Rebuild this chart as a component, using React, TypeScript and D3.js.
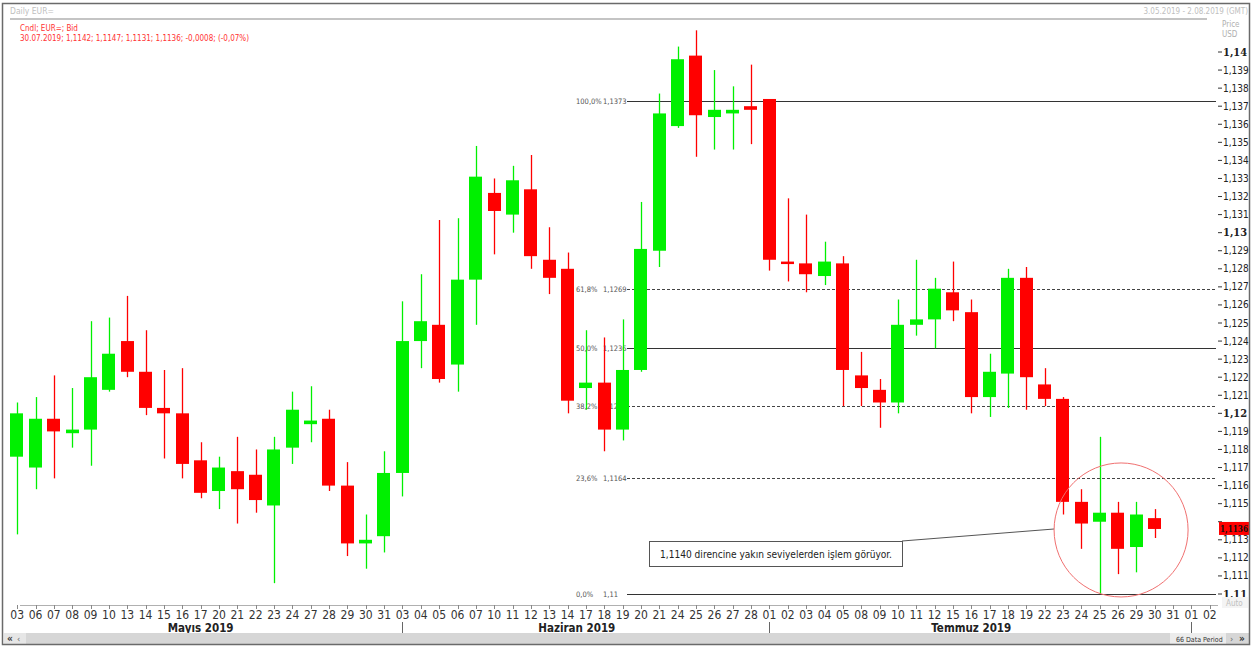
import React from "react";
import * as d3 from "d3";

// ---- data ----
const dateLabels = [
  "03","06","07","08","09","10","13","14","15","16","17","20","21","22","23","24","27","28","29","30","31",
  "03","04","05","06","07","10","11","12","13","14","17","18","19","20","21","24","25","26","27","28",
  "01","02","03","04","05","08","09","10","11","12","15","16","17","18","19","22","23","24","25","26","29","30","31",
  "01","02",
];
const monthNames = ["Mayıs 2019", "Haziran 2019", "Temmuz 2019"];
const monthStart = [0, 21, 41];
const monthEnd = [20, 40, 63];

const opens = [
  1.1176, 1.1170, 1.1197, 1.1189, 1.1191, 1.1213, 1.1240, 1.1223, 1.1203, 1.1200, 1.1174,
  1.1157, 1.1168, 1.1166, 1.1149, 1.1181, 1.1194, 1.1197, 1.1160, 1.1128, 1.1132,
  1.1167, 1.1240, 1.1249, 1.1227, 1.1274, 1.1322, 1.1310, 1.1324, 1.1285, 1.1280,
  1.1214, 1.1217, 1.1191, 1.1224, 1.1290, 1.1359, 1.1398, 1.1364, 1.1366, 1.1370,
  1.1374, 1.1284, 1.1283, 1.1276, 1.1283, 1.1221, 1.1213, 1.1206, 1.1249, 1.1252,
  1.1267, 1.1256, 1.1209, 1.1222, 1.1275, 1.1216, 1.1208, 1.1151, 1.1140, 1.1145,
  1.1126, 1.1142,
];
const highs = [
  1.1206, 1.1209, 1.1221, 1.1214, 1.1251, 1.1253, 1.1265, 1.1246, 1.1224, 1.1225, 1.1184,
  1.1176, 1.1187, 1.1180, 1.1187, 1.1212, 1.1215, 1.1202, 1.1173, 1.1144, 1.1179,
  1.1262, 1.1277, 1.1307, 1.1308, 1.1348, 1.1330, 1.1337, 1.1343, 1.1303, 1.1289,
  1.1246, 1.1242, 1.1252, 1.1317, 1.1377, 1.1403, 1.1412, 1.1390, 1.1381, 1.1393,
  1.1374, 1.1319, 1.1310, 1.1295, 1.1287, 1.1234, 1.1219, 1.1263, 1.1285, 1.1275,
  1.1284, 1.1263, 1.1233, 1.1280, 1.1281, 1.1225, 1.1209, 1.1158, 1.1187, 1.1151,
  1.1151, 1.1147,
];
const lows = [
  1.1133, 1.1158, 1.1164, 1.1181, 1.1171, 1.1212, 1.1220, 1.1199, 1.1175, 1.1164, 1.1153,
  1.1147, 1.1139, 1.1145, 1.1106, 1.1172, 1.1184, 1.1157, 1.1121, 1.1114, 1.1123,
  1.1154, 1.1225, 1.1217, 1.1212, 1.1249, 1.1288, 1.1300, 1.1280, 1.1266, 1.1200,
  1.1202, 1.1179, 1.1185, 1.1223, 1.1281, 1.1358, 1.1342, 1.1346, 1.1346, 1.1349,
  1.1279, 1.1273, 1.1267, 1.1271, 1.1204, 1.1204, 1.1192, 1.1200, 1.1243, 1.1236,
  1.1251, 1.1200, 1.1198, 1.1203, 1.1202, 1.1204, 1.1144, 1.1125, 1.1100, 1.1111,
  1.1112, 1.1131,
];
const closes = [
  1.1200, 1.1197, 1.1190, 1.1191, 1.1220, 1.1233, 1.1223, 1.1203, 1.1200, 1.1172, 1.1156,
  1.1170, 1.1158, 1.1152, 1.1180, 1.1202, 1.1196, 1.1160, 1.1128, 1.1130, 1.1167,
  1.1240, 1.1251, 1.1219, 1.1274, 1.1331, 1.1312, 1.1329, 1.1287, 1.1275, 1.1207,
  1.1217, 1.1191, 1.1224, 1.1291, 1.1366, 1.1396, 1.1365, 1.1368, 1.1368, 1.1368,
  1.1285, 1.1283, 1.1277, 1.1284, 1.1224, 1.1214, 1.1206, 1.1249, 1.1252, 1.1269,
  1.1257, 1.1209, 1.1223, 1.1275, 1.1220, 1.1208, 1.1151, 1.1139, 1.1145, 1.1125,
  1.1144, 1.1136,
];

const fibPct = ["100,0%", "61,8%", "50,0%", "38,2%", "23,6%", "0,0%"];
const fibPrice = [1.1373, 1.1269, 1.1236, 1.1204, 1.1164, 1.11];
const fibDashed = [false, true, false, true, true, false];

const lastPrice = 1.1136;
const noteText = "1,1140 direncine yakın seviyelerden işlem görüyor.";
const headerLine1 = "Cndl; EUR=; Bid";
const headerLine2 = "30.07.2019; 1,1142; 1,1147; 1,1131; 1,1136; -0,0008; (-0,07%)";

// ---- layout ----
const W = 1253, H = 648;
const plotL = 8, plotR = 1216;
const FONT = "'DejaVu Sans Condensed', 'Liberation Sans', sans-serif";
const BOLDFONT = "'DejaVu Serif Condensed', 'Liberation Serif', serif";
const GREEN = "#00f000";
const RED = "#ff0000";

const fmt = (v: number, d: number) => v.toFixed(d).replace(".", ",");

export default function App() {
  const x = d3.scaleBand<number>().domain(d3.range(dateLabels.length)).range([plotL, 1219]).paddingInner(0.27).paddingOuter(0.135);
  const y = d3.scaleLinear().domain([1.11, 1.14]).range([594, 52]);
  const cx = (i: number) => (x(i) as number) + x.bandwidth() / 2;
  const ticks = d3.range(0, 31).map((k) => 1.11 + k * 0.001);

  const circleCx = cx(60) + 3;
  const circleCy = y(1.1136) + 1;
  const circleR = 67;

  return (
    <div style={{ position: "fixed", left: 0, top: 0, width: W, height: H, background: "#fff" }}>
      <svg width={W} height={H} style={{ display: "block", fontFamily: FONT }}>
        <defs>
          <clipPath id="plotclip">
            <rect x={plotL} y={20} width={plotR - plotL} height={584} />
          </clipPath>
        </defs>
        <rect x={0} y={0} width={W} height={H} fill="#fff" />

        {/* header */}
        <text x={10} y={14} fontSize={8.5} fill="#c0c0c0">Daily EUR=</text>
        <line x1={10} x2={1207} y1={19} y2={19} stroke="#b0b0b0" strokeWidth={1.5} />
        <text x={1248} y={14} fontSize={8} fill="#c0c0c0" textAnchor="end">3.05.2019 - 2.08.2019 (GMT)</text>
        <text x={1222} y={27} fontSize={8} fill="#b0b0b0">Price</text>
        <text x={1222} y={37} fontSize={8} fill="#b0b0b0">USD</text>
        <text x={20} y={31} fontSize={8} fill="#ff3333">{headerLine1}</text>
        <text x={20} y={41} fontSize={8} fill="#ff3333">{headerLine2}</text>

        {/* fibonacci */}
        {fibPrice.map((p, i) => (
          <g key={"f" + i}>
            <line x1={627} x2={plotR} y1={Math.round(y(p)) + 0.5} y2={Math.round(y(p)) + 0.5}
              stroke={fibDashed[i] ? "#444" : "#333"} strokeWidth={1}
              strokeDasharray={fibDashed[i] ? "3,2" : undefined} />
            <text x={576} y={y(p) + 3} fontSize={7.5} fill="#555">{fibPct[i]}</text>
            <text x={603} y={y(p) + 3} fontSize={7.5} fill="#555">{fmt(p, p === 1.11 ? 2 : 4)}</text>
          </g>
        ))}

        {/* candles */}
        <g clipPath="url(#plotclip)">
          {opens.map((o, i) => {
            const c = closes[i];
            const col = c >= o ? GREEN : RED;
            const top = y(Math.max(o, c));
            const bot = y(Math.min(o, c));
            const xc = Math.round(cx(i)) + 0.5;
            return (
              <g key={"c" + i}>
                <line x1={xc} x2={xc} y1={y(highs[i])} y2={y(lows[i])} stroke={col} strokeWidth={1.3} />
                <rect x={Math.round(x(i) as number)} y={top} width={Math.round(x.bandwidth())} height={Math.max(bot - top, 2.5)} fill={col} />
              </g>
            );
          })}
        </g>

        {/* annotation */}
        <line x1={902} y1={541} x2={circleCx - circleR} y2={529} stroke="#555" strokeWidth={1} />
        <rect x={649.5} y={541.5} width={253} height={25} fill="#fff" stroke="#555" strokeWidth={1} />
        <text x={776} y={558} fontSize={11} fill="#222" textAnchor="middle"
          textLength={232} lengthAdjust="spacingAndGlyphs">{noteText}</text>
        <g clipPath="url(#plotclip)">
          <circle cx={circleCx} cy={circleCy} r={circleR} fill="none" stroke="#f07070" strokeWidth={1} />
        </g>

        {/* right axis */}
        {ticks.map((t, k) => {
          const major = k % 10 === 0;
          const yy = y(t);
          if (Math.abs(t - 1.114) < 1e-6) return null;
          return (
            <g key={"t" + k}>
              <line x1={1218} x2={1222} y1={yy} y2={yy} stroke="#333" />
              <text x={1223} y={yy + 3.5} fontSize={major ? 11 : 10} fontWeight={major ? "bold" : "normal"} fill="#222"
                fontFamily={major ? BOLDFONT : FONT}>
                {major ? fmt(t, 2) : fmt(t, 3)}
              </text>
            </g>
          );
        })}
        <line x1={1218} x2={1222} y1={y(1.114)} y2={y(1.114)} stroke="#333" />
        <rect x={1219} y={y(lastPrice) - 7} width={30} height={13} fill="#ff0000" />
        <text x={1220} y={y(lastPrice) + 3.5} fontSize={10} fontWeight="bold" fill="#111"
          fontFamily={BOLDFONT} textLength={28} lengthAdjust="spacingAndGlyphs">{fmt(lastPrice, 4)}</text>
        <rect x={1222} y={597} width={26} height={11} fill="#f4f4f4" />
        <text x={1226} y={606} fontSize={8} fill="#c0c0c0">Auto</text>

        {/* x axis */}
        <line x1={20} x2={1218} y1={605.5} y2={605.5} stroke="#b0b0b0" />
        {dateLabels.map((d, i) => (
          <g key={"x" + i}>
            <line x1={Math.round(cx(i)) + 0.5} x2={Math.round(cx(i)) + 0.5} y1={605} y2={609} stroke="#888" />
            <text x={cx(i)} y={619} fontSize={12} fill="#333" textAnchor="middle">{d}</text>
          </g>
        ))}
        {[21, 41, 64].map((i) => (
          <line key={"ms" + i} x1={Math.round(cx(i)) + 0.5} x2={Math.round(cx(i)) + 0.5} y1={622} y2={633} stroke="#666" />
        ))}
        {monthNames.map((m, k) => (
          <text key={"m" + k} x={(cx(monthStart[k]) + cx(monthEnd[k])) / 2} y={632} fontSize={11.5} fontWeight="bold"
            fill="#222" textAnchor="middle">{m}</text>
        ))}

        {/* scrollbar */}
        <rect x={4} y={633} width={1245} height={11} fill="#d6d6d6" />
        <rect x={4} y={633} width={22} height={11} fill="#e6e6e6" />
        <text x={7} y={642} fontSize={10} fontWeight="bold" fill="#333">«</text>
        <text x={17} y={642} fontSize={9} fill="#666">‹</text>
        <rect x={1170} y={633} width={56} height={11} fill="#ececec" />
        <text x={1176} y={641.5} fontSize={7} fill="#333">66 Data Period</text>
        <text x={1230} y={642} fontSize={9} fill="#666">›</text>
        <text x={1239} y={642} fontSize={10} fontWeight="bold" fill="#333">»</text>

        {/* frame */}
        <rect x={2.5} y={3.5} width={1247} height={641} fill="none" stroke="#6a6a6a" strokeWidth={1.5} />
      </svg>
    </div>
  );
}
